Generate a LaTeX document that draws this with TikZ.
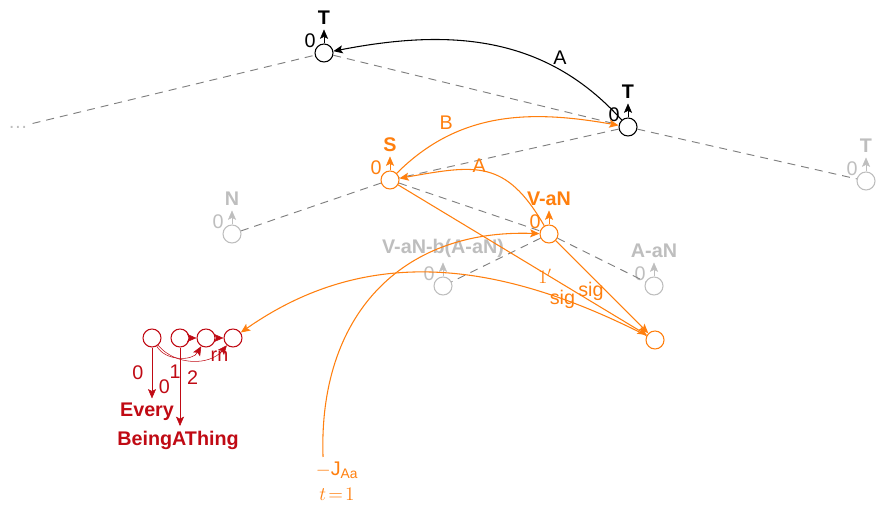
\documentclass[tikz,border=0pt]{standalone}
\usepackage{fontspec}
\setmainfont{Liberation Sans}
\usetikzlibrary{arrows.meta,positioning}

\definecolor{orng}{RGB}{255,127,14}
\definecolor{redd}{RGB}{192,10,20}
\definecolor{lgray}{RGB}{190,190,190}
\definecolor{dgray}{RGB}{128,128,128}

\begin{document}
\begin{tikzpicture}[x=0.75pt,y=0.75pt,
    font=\fontsize{14.8}{17}\selectfont,
    >={Stealth[length=7pt,width=6pt,inset=1.5pt]},
    st/.style={circle,draw,line width=0.8pt,minimum size=13.5pt,inner sep=0pt},
    zero/.style={label={[inner sep=0pt,text=#1]150:0}},
    ty/.style={font=\fontsize{14.8}{17}\selectfont\bfseries},
    tree/.style={dash pattern=on 6pt off 4.5pt,dgray,line width=0.7pt},
    arc/.style={->,line width=0.8pt}]
    \useasboundingbox (0,0) rectangle (877,513);

    % tree nodes
    \node[st,black,zero=black] (t1) at (324,460) {};
    \node[st,black,zero=black] (t2) at (628,386) {};
    \node[st,lgray,zero=lgray] (t3) at (866,332) {};
    \node[st,orng,zero=orng] (s) at (390,333) {};
    \node[st,lgray,zero=lgray] (n) at (232,279) {};
    \node[st,orng,zero=orng] (van) at (549,279) {};
    \node[st,lgray,zero=lgray] (vanb) at (443,227) {};
    \node[st,lgray,zero=lgray] (aan) at (654,227) {};
    \node[st,orng] (bot) at (655,173) {};
    \node[text=lgray] (dots) at (18,386) {\ldots};

    \node[ty,text=black,above=10.5pt of t1] (t1t) {T};
    \node[ty,text=black,above=10.5pt of t2] (t2t) {T};
    \node[ty,text=lgray,above=10.5pt of t3] (t3t) {T};
    \node[ty,text=orng,above=10.5pt of s] (st) {S};
    \node[ty,text=lgray,above=10.5pt of n] (nt) {N};
    \node[ty,text=orng,above=10.5pt of van] (vant) {V-aN};
    \node[ty,text=lgray,above=10.5pt of vanb] (vanbt) {V-aN-b(A-aN)};
    \node[ty,text=lgray,above=10.5pt of aan] (aant) {A-aN};

    \draw[->,black] (t1) -- (t1t);
    \draw[->,black] (t2) -- (t2t);
    \draw[->,lgray] (t3) -- (t3t);
    \draw[->,orng] (s) -- (st);
    \draw[->,lgray] (n) -- (nt);
    \draw[->,orng] (van) -- (vant);
    \draw[->,lgray] (vanb) -- (vanbt);
    \draw[->,lgray] (aan) -- (aant);

    \draw[tree] (dots) -- (t1);
    \draw[tree] (t1) -- (t2);
    \draw[tree] (t2) -- (s);
    \draw[tree] (t2) -- (t3);
    \draw[tree] (s) -- (n);
    \draw[tree] (s) -- (van);
    \draw[tree] (van) -- (vanb);
    \draw[tree] (van) -- (aan);

    % links
    \draw[arc,black] (t2) to[out=132,in=11] node[pos=0.25,above] {A} (t1);
    \draw[arc,orng] (s) to[out=45,in=170] node[pos=0.3,above left=-2pt] {B} (t2);
    \draw[arc,orng] (van) to[out=120,in=10,looseness=1.3] node[pos=0.55,above=-5pt] {A} (s);
    \draw[arc,orng] (s) -- node[pos=0.59,yshift=-2pt] {$1'$} (bot);
    \draw[arc,orng] (van) -- node[pos=0.38,below=1pt] {sig} (bot);

    % red cluster
    \node[st,redd] (r1) at (152,175) {};
    \node[st,redd] (r2) at (180,175) {};
    \node[st,redd] (r3) at (206,175) {};
    \node[st,redd] (r4) at (233,175) {};
    \node[ty,text=redd] (every) at (147,101) {Every};
    \node[ty,text=redd] (being) at (178,73) {BeingAThing};

    \draw[arc,orng] (bot) to[out=153,in=35] node[pos=0.2] {sig} (r4);

    \draw[->,redd] (r1) -- node[midway,left=3pt] {0} (r1 |- every.north);
    \draw[->,redd] (r2) -- node[midway,left=4pt] {0} (r2 |- being.north);
    \draw[->,redd] (r2) -- (r3);
    \draw[->,redd] (r3) -- node[below=6pt] {rn} (r4);
    \draw[->,redd] (r1) to[bend right=60] node[below=2pt,xshift=-3pt] {1} (r3);
    \draw[->,redd] (r1) to[bend right=50] node[below=4pt] {2} (r4);

    \node[anchor=north,text=orng,align=center,font=\fontsize{14.8}{19}\selectfont] (jaa) at (337,56) {$-$J\textsubscript{Aa}\\$t\!=\!1$};
    \draw[arc,orng] (jaa.120) to[out=92,in=178,looseness=1.15] (van);
\end{tikzpicture}
\end{document}
